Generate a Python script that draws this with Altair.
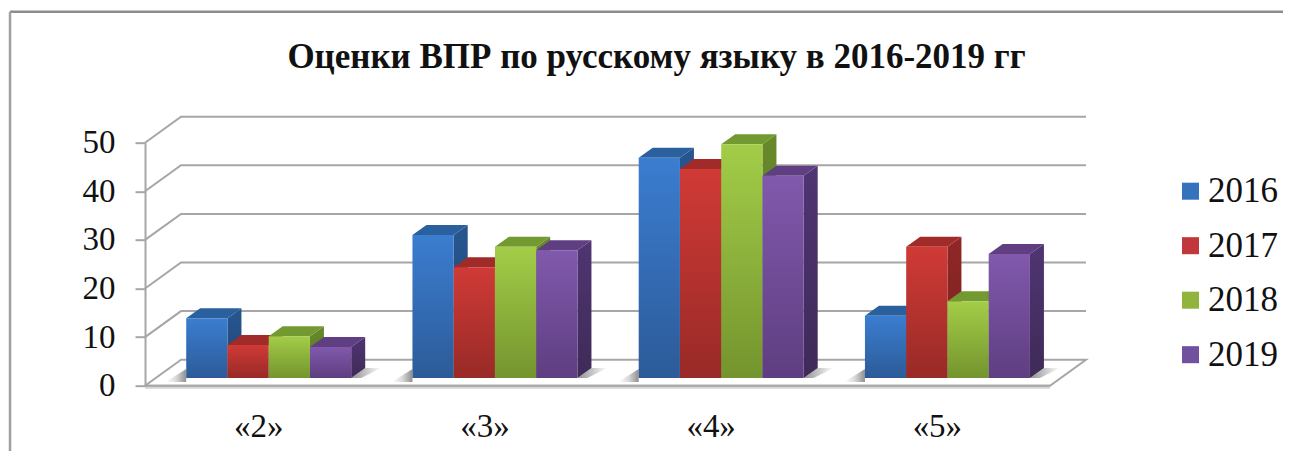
import altair as alt
import pandas as pd

TITLE = "Оценки ВПР по русскому языку в 2016-2019 гг"
GRADES = ["«2»", "«3»", "«4»", "«5»"]
YEARS = ["2016", "2017", "2018", "2019"]
V2016 = [12.3, 29.4, 45.3, 12.8]
V2017 = [6.8, 22.8, 43.0, 27.0]
V2018 = [8.6, 27.0, 48.1, 15.8]
V2019 = [6.4, 26.3, 41.6, 25.5]
SERIES = [V2016, V2017, V2018, V2019]
TICKS = [0, 10, 20, 30, 40, 50]

FONT = "Liberation Serif"
GRID = "#a6a6a6"
FRONT = [("#3b7dd0", "#2c5b98"), ("#d03a36", "#982a27"), ("#a3cd48", "#74942e"), ("#8159ad", "#5e3e80")]
TOP = ["#2b609f", "#a12b28", "#739a31", "#5f3f82"]
SIDE = [("#27568f", "#1f4677"), ("#8f2725", "#7a2220"), ("#68892a", "#5a7724"), ("#4f3572", "#3f2a58")]
SOLID = ["#3572bd", "#c0383a", "#90b53d", "#7150a0"]

PLOT_W, PLOT_H = 905, 243
CAT_PX = PLOT_W / len(GRADES)
UNIT_PX = PLOT_H / 50
DX, DY = 36 / CAT_PX, 26 / UNIT_PX           # depth of the chart box
BAR_DX, BAR_DY = 14 / CAT_PX, 10 / UNIT_PX   # depth of one bar
BASE = 7.7 / UNIT_PX                          # floor height under the bar front
START, BAR_W = 41.2 / CAT_PX, 41.25 / CAT_PX

xs = alt.Scale(domain=[0, 4], nice=False, zero=False)
ys = alt.Scale(domain=[0, 50], nice=False, zero=False)
label_list = "[" + ",".join(f"'{g}'" for g in GRADES) + "]"
XAXIS = alt.Axis(
    values=[0.5, 1.5, 2.5, 3.5], grid=False, domain=False, ticks=False,
    labelExpr=f"{label_list}[datum.value-0.5]", labelFont=FONT, labelFontSize=33,
    labelColor="#111111", labelPadding=25)
YAXIS = alt.Axis(
    values=TICKS, grid=False, domain=True, domainColor=GRID, domainWidth=2,
    ticks=True, tickColor=GRID, tickWidth=2, tickSize=10,
    labelFont=FONT, labelFontSize=33, labelColor="#111111", labelPadding=20)
NX = alt.X("x:Q", scale=xs, title=None, axis=XAXIS)
NY = alt.Y("y:Q", scale=ys, title=None, axis=YAXIS)


def grad(stops, horizontal=False):
    return alt.LinearGradient(
        gradient="linear",
        x1=0, y1=0, x2=1 if horizontal else 0, y2=0 if horizontal else 1,
        stops=[alt.GradientStop(offset=i / (len(stops) - 1), color=c) for i, c in enumerate(stops)],
    )


layers = []

# floor
floor = pd.DataFrame({"y": [0, DY], "x": [0, DX], "x2": [4, 4 + DX]})
layers.append(alt.Chart(floor).mark_area(orient="horizontal", color="white", stroke=GRID, strokeWidth=2).encode(
    x=NX, x2="x2:Q", y=NY))

# walls' grid lines
rows = []
for v in TICKS[1:]:
    rows += [{"x": 0, "y": v, "t": v, "o": 0}, {"x": DX, "y": v + DY, "t": v, "o": 1}, {"x": 4 + DX, "y": v + DY, "t": v, "o": 2}]
layers.append(alt.Chart(pd.DataFrame(rows)).mark_line(color=GRID, strokeWidth=2).encode(
    x=NX, y=NY, detail="t:N", order="o:Q"))

# front lip of the floor
lip = pd.DataFrame({"x": [0, 4], "y": [-1.6 / UNIT_PX, -1.6 / UNIT_PX]})
layers.append(alt.Chart(lip).mark_line(color="#d4d4d4", strokeWidth=3).encode(x=NX, y=NY))
lip2 = pd.DataFrame({"x": [0, 4], "y": [0, 0]})
layers.append(alt.Chart(lip2).mark_line(color=GRID, strokeWidth=2).encode(x=NX, y=NY))

# shadows on the floor
for g in range(len(GRADES)):
    left = g + START
    right = left + 4 * BAR_W
    sl = pd.DataFrame({"x": [left - 20 / CAT_PX, left], "y": [BASE - 4 / UNIT_PX, BASE - 4 / UNIT_PX],
                       "y2": [BASE - 3.5 / UNIT_PX, BASE + 9 / UNIT_PX]})
    layers.append(alt.Chart(sl).mark_area(color=grad(["#ffffff", "#d8d8d8", "#8f8f8f"], True)).encode(
        x=NX, y=NY, y2="y2:Q"))
    sr = pd.DataFrame({"y": [BASE, BASE + BAR_DY], "x": [right, right + BAR_DX],
                       "x2": [right + 10 / CAT_PX, right + BAR_DX + 16 / CAT_PX]})
    layers.append(alt.Chart(sr).mark_area(orient="horizontal", color=grad(["#8f8f8f", "#ffffff"], True)).encode(
        x=NX, x2="x2:Q", y=NY))

# bars: side, top, front for each series, left to right
for s, vals in enumerate(SERIES):
    side_rows, top_rows, front_rows = [], [], []
    for g, v in enumerate(vals):
        xl = g + START + s * BAR_W
        xr = xl + BAR_W
        ytop = BASE + v
        side_rows += [{"x": xr, "y": BASE, "y2": ytop, "g": g},
                      {"x": xr + BAR_DX, "y": BASE + BAR_DY, "y2": ytop + BAR_DY, "g": g}]
        top_rows += [{"y": ytop, "x": xl, "x2": xr, "g": g},
                     {"y": ytop + BAR_DY, "x": xl + BAR_DX, "x2": xr + BAR_DX, "g": g}]
        front_rows.append({"x": xl, "x2": xr, "y": BASE, "y2": ytop})
    layers.append(alt.Chart(pd.DataFrame(side_rows)).mark_area(color=grad(list(SIDE[s]))).encode(
        x=NX, y=NY, y2="y2:Q", detail="g:N"))
    layers.append(alt.Chart(pd.DataFrame(top_rows)).mark_area(orient="horizontal", color=TOP[s]).encode(
        x=NX, x2="x2:Q", y=NY, detail="g:N"))
    layers.append(alt.Chart(pd.DataFrame(front_rows)).mark_bar(color=grad(list(FRONT[s]))).encode(
        x=NX, x2="x2:Q", y=NY, y2="y2:Q"))

# legend carrier
legend_df = pd.DataFrame({"x": [0] * 4, "y": [0] * 4, "year": YEARS})
layers.append(alt.Chart(legend_df).mark_square(size=1, opacity=0).encode(
    x=NX, y=NY,
    color=alt.Color("year:N", scale=alt.Scale(domain=YEARS, range=SOLID), title=None, legend=alt.Legend(
        orient="none", legendX=1028, legendY=31, symbolType="square", symbolSize=290,
        symbolOpacity=1, symbolStrokeWidth=0, labelFont=FONT, labelFontSize=35, labelColor="#111111",
        rowPadding=18.5, labelOffset=0, symbolOffset=0))))

# outer frame of the picture
frame_top = alt.Chart(pd.DataFrame({"a": [0]})).mark_rule(color="#8c8c8c", strokeWidth=2.5).encode(
    x=alt.value(-135), x2=alt.value(1146), y=alt.value(-131))
frame_left = alt.Chart(pd.DataFrame({"a": [0]})).mark_rule(color="#a0a0a0", strokeWidth=2.5).encode(
    x=alt.value(-135), y=alt.value(-131), y2=alt.value(316))
layers += [frame_top, frame_left]

chart = alt.layer(*layers).properties(
    width=PLOT_W, height=PLOT_H,
    background="white",
    title=alt.TitleParams(TITLE, font=FONT, fontSize=35, fontWeight="bold", color="#111111",
                          anchor="middle", dx=59, offset=-65),
    padding={"left": 137, "top": 134.7, "right": 233, "bottom": 65},
    autosize=alt.AutoSizeParams(type="none"),
).configure_view(stroke=None)

chart.save("out.html", embed_options={"renderer": "svg", "actions": False})
